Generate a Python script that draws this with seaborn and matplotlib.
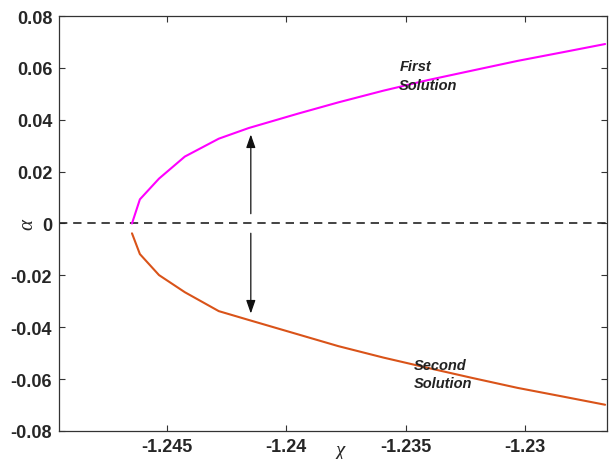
import matplotlib
matplotlib.use("Agg")
import matplotlib.pyplot as plt
import seaborn as sns
import pandas as pd

# Branch data: two solution curves of alpha against chi
chi_first = [-1.24645, -1.24612, -1.24532, -1.24424, -1.24282, -1.24157,
             -1.23949, -1.23782, -1.23594, -1.23407, -1.23220, -1.23032,
             -1.22845, -1.22666]
alpha_first = [0.0, 0.0093, 0.0173, 0.0258, 0.0327, 0.0368,
               0.0424, 0.0467, 0.0512, 0.0553, 0.0590, 0.0627,
               0.0660, 0.0692]

chi_second = [-1.24645, -1.24612, -1.24532, -1.24424, -1.24282, -1.24157,
              -1.23949, -1.23782, -1.23594, -1.23407, -1.23220, -1.23032,
              -1.22845, -1.22666]
alpha_second = [-0.0038, -0.0118, -0.0199, -0.0265, -0.0338, -0.0372,
                -0.0428, -0.0473, -0.0517, -0.0557, -0.0596, -0.0634,
                -0.0667, -0.0699]

x_ticks = [-1.245, -1.24, -1.235, -1.23]
x_tick_labels = ["-1.245", "-1.24", "-1.235", "-1.23"]
y_ticks = [-0.08, -0.06, -0.04, -0.02, 0.0, 0.02, 0.04, 0.06, 0.08]
y_tick_labels = ["-0.08", "-0.06", "-0.04", "-0.02", "0", "0.02", "0.04", "0.06", "0.08"]

arrow_chi = -1.24148
arrow_up = (0.0027, 0.0354)
arrow_down = (-0.0027, -0.0358)

sns.set_style("ticks")
plt.rcParams["font.family"] = ["Liberation Sans", "DejaVu Sans"]

df = pd.concat([
    pd.DataFrame({"chi": chi_first, "alpha": alpha_first, "branch": "First"}),
    pd.DataFrame({"chi": chi_second, "alpha": alpha_second, "branch": "Second"}),
])

fig = plt.figure(figsize=(6.09, 4.60), dpi=100)
ax = fig.add_axes([0.097, 0.061, 0.899, 0.902])

sns.lineplot(data=df, x="chi", y="alpha", hue="branch",
             palette={"First": "#FF00FF", "Second": "#D95319"},
             linewidth=1.5, legend=False, ax=ax, sort=False, estimator=None)

ax.axhline(0.0, color="#222222", linestyle=(0, (5, 3.5)), linewidth=1.2, zorder=1)

arrow_kw = dict(arrowstyle="-|>,head_length=0.8,head_width=0.28", color="#111111", lw=0.9)
ax.annotate("", xy=(arrow_chi, arrow_up[1]), xytext=(arrow_chi, arrow_up[0]), arrowprops=arrow_kw)
ax.annotate("", xy=(arrow_chi, arrow_down[1]), xytext=(arrow_chi, arrow_down[0]), arrowprops=arrow_kw)

ax.text(-1.23527, 0.0570, "First\nSolution", fontsize=10.5, fontweight="bold",
        fontstyle="italic", color="#222222", linespacing=1.4, va="center", ha="left")
ax.text(-1.23465, -0.0580, "Second\nSolution", fontsize=10.5, fontweight="bold",
        fontstyle="italic", color="#222222", linespacing=1.4, va="center", ha="left")

ax.set_xlim(-1.2495, -1.2266)
ax.set_ylim(-0.08, 0.08)
ax.set_xticks(x_ticks)
ax.set_xticklabels(x_tick_labels)
ax.set_yticks(y_ticks)
ax.set_yticklabels(y_tick_labels)
ax.tick_params(direction="in", length=4, width=0.8, color="#333333",
               top=True, right=True, labelsize=13, pad=5)
for lbl in ax.get_xticklabels() + ax.get_yticklabels():
    lbl.set_fontweight("bold")
for s in ax.spines.values():
    s.set_visible(True)
    s.set_color("#333333")
    s.set_linewidth(0.9)

ax.set_xlabel("")
ax.set_ylabel("")
fig.text(0.558, 0.018, "χ", fontsize=15, fontstyle="italic",
         family=["Liberation Serif", "DejaVu Serif"], ha="center", va="center")
fig.text(0.045, 0.511, "α", fontsize=15, fontstyle="italic", rotation=90,
         family=["Liberation Serif", "DejaVu Serif"], ha="center", va="center")

fig.savefig("out.png", dpi=100, facecolor="white")
